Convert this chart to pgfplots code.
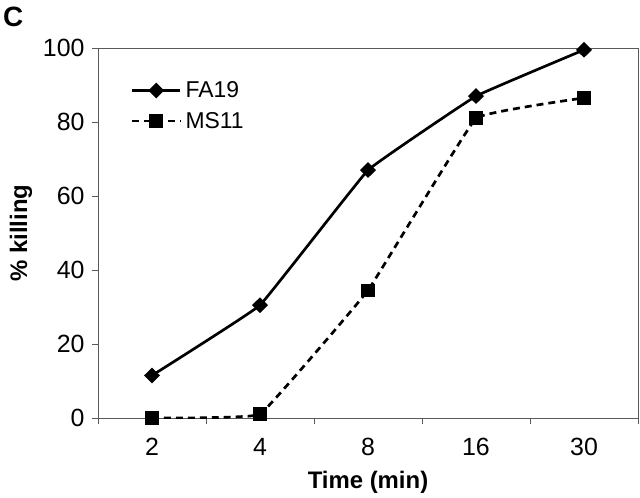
\documentclass[border=0pt]{standalone}
\usepackage{pgfplots}
\pgfplotsset{compat=1.18}
\usepackage{fontspec}
\setmainfont{Liberation Sans}
\begin{document}
\begin{tikzpicture}
\path[use as bounding box] (0,0) rectangle (640bp,-498bp);
\begin{axis}[
  at={(98bp,-418bp)}, anchor=south west,
  scale only axis, width=540bp, height=370bp,
  xmin=-0.5, xmax=4.5, ymin=0, ymax=100,
  xtick={0,1,2,3,4}, xticklabels={2,4,8,16,30},
  minor xtick={-0.5,0.5,1.5,2.5,3.5,4.5},
  ytick={0,20,40,60,80,100},
  tick pos=left, tick align=outside,
  major x tick style={draw=none},
  minor tick length=6bp, major tick length=6bp,
  every tick/.style={gray!70!black, line width=0.8pt},
  axis line style={gray!70!black, line width=0.8pt},
  ticklabel style={font=\fontsize{25}{29}\selectfont},
  /pgf/number format/assume math mode=true,
  xticklabel style={yshift=-11bp},
  yticklabel style={xshift=-4bp},
  xlabel={\bfseries Time (min)},
  ylabel={\bfseries \% killing},
  label style={font=\fontsize{24}{28}\selectfont\bfseries},
  xlabel style={yshift=-8bp},
  ylabel style={yshift=4bp},
  legend style={draw=none, fill=none, at={(axis description cs:0.055,0.92)}, anchor=north west,
    font=\fontsize{23}{27}\selectfont, row sep=9bp, nodes={inner xsep=4bp}},
  legend cell align=left,
  legend image code/.code={\draw[mark repeat=2, mark phase=2, #1] plot coordinates {(0bp,0bp) (24bp,0bp) (48bp,0bp)};},
]
\addplot[black, line width=2.7pt, smooth, tension=0.12, mark=diamond*, mark size=6pt,
  mark options={solid, xscale=1.35}]
  coordinates {(0,11.5) (1,30.5) (2,67) (3,87) (4,99.5)};
\addlegendentry{FA19}
\addplot[black, line width=2.7pt, smooth, tension=0.12, dash pattern=on 7pt off 5pt,
  mark=square*, mark size=5.5pt, mark options={solid}]
  coordinates {(0,0) (1,1) (2,34.5) (3,81) (4,86.5)};
\addlegendentry{MS11}
\end{axis}
\node[anchor=north west, inner sep=0pt, font=\fontsize{28}{30}\selectfont\bfseries] at (3bp,-7bp) {C};
\end{tikzpicture}
\end{document}
